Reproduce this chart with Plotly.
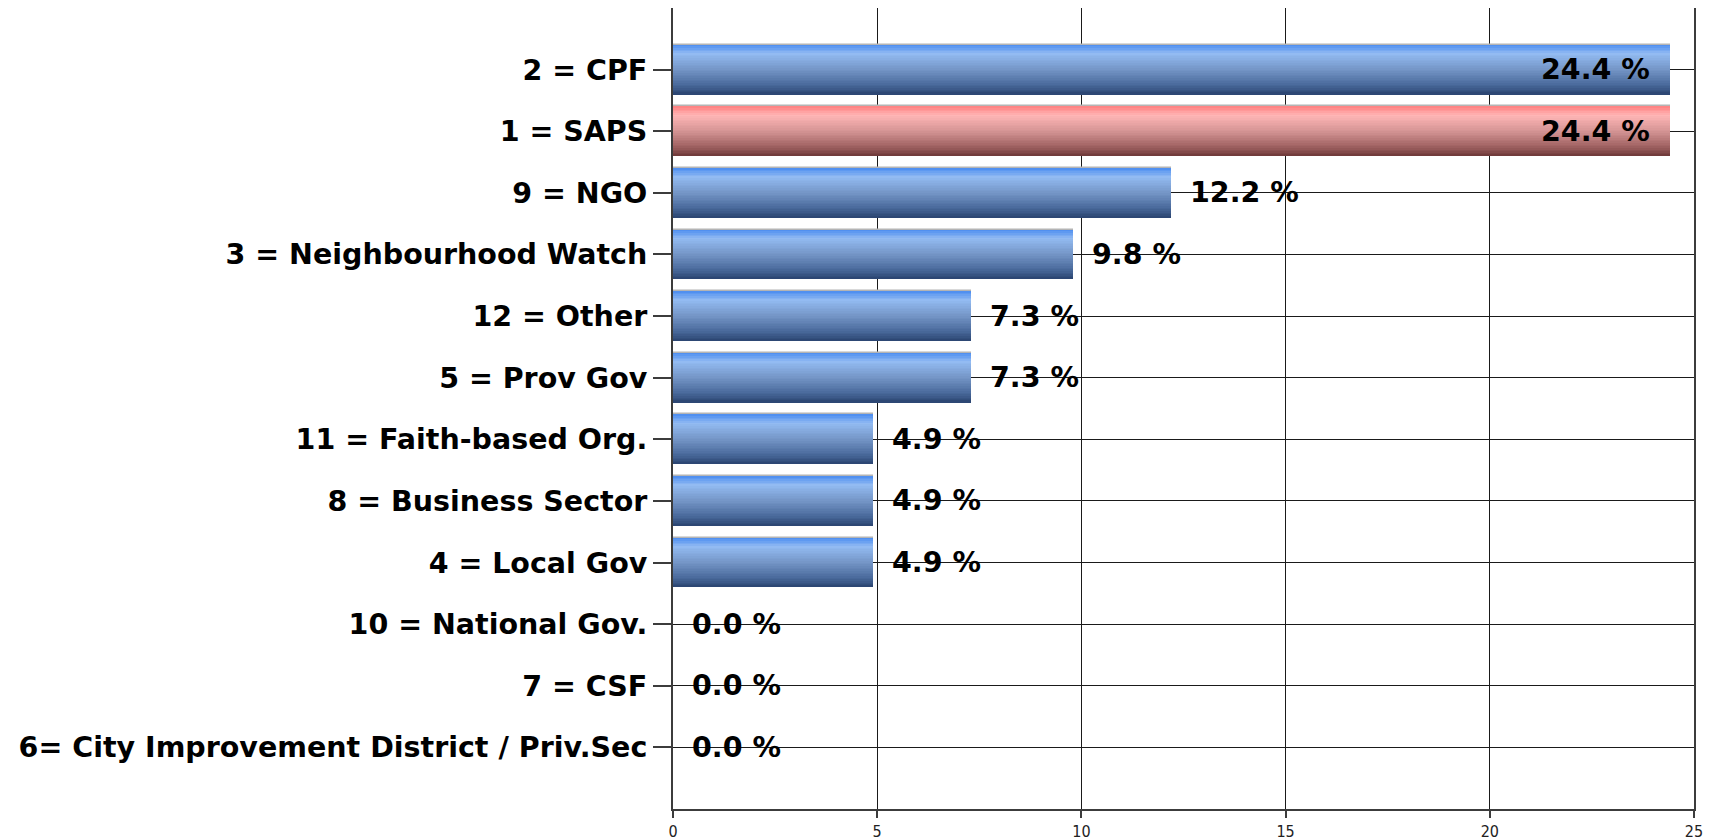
import plotly.graph_objects as go

categories = [
    "2 = CPF",
    "1 = SAPS",
    "9 = NGO",
    "3 = Neighbourhood Watch",
    "12 = Other",
    "5 = Prov Gov",
    "11 = Faith-based Org.",
    "8 = Business Sector",
    "4 = Local Gov",
    "10 = National Gov.",
    "7 = CSF",
    "6= City Improvement District / Priv.Sec",
]
values = [24.4, 24.4, 12.2, 9.8, 7.3, 7.3, 4.9, 4.9, 4.9, 0.0, 0.0, 0.0]
highlight = "1 = SAPS"
x_ticks = [0, 5, 10, 15, 20, 25]

# gradient stops (fraction from top of bar, colour)
blue_stops = [(0.0, "#4a8cf0"), (0.18, "#93bbf2"), (0.5, "#7495c6"), (0.8, "#4a6a9c"), (1.0, "#2a4470")]
red_stops = [(0.0, "#ff7f7f"), (0.18, "#ffb6b6"), (0.5, "#d49494"), (0.8, "#a06262"), (1.0, "#6e3838")]


def hex2rgb(h):
    h = h.lstrip("#")
    return tuple(int(h[i:i + 2], 16) for i in (0, 2, 4))


def interp(stops, t):
    for (t0, c0), (t1, c1) in zip(stops[:-1], stops[1:]):
        if t0 <= t <= t1:
            f = (t - t0) / (t1 - t0) if t1 > t0 else 0
            a, b = hex2rgb(c0), hex2rgb(c1)
            return "rgb(%d,%d,%d)" % tuple(round(a[k] + (b[k] - a[k]) * f) for k in range(3))
    return stops[-1][1]


BAR_W = 0.81
N = 30
step = BAR_W / N
FONT = "DejaVu Sans"

fig = go.Figure()

# base (outline / shadow)
fig.add_trace(go.Bar(
    y=categories, x=values, orientation="h",
    width=BAR_W, offset=-BAR_W / 2,
    marker=dict(color="#c8c8c8",
                line=dict(color="#b4b4b4", width=[1.5 if v > 0 else 0 for v in values])),
    hoverinfo="skip", showlegend=False,
))

for i in range(N):
    t = (i + 0.5) / N
    cols = [interp(red_stops if c == highlight else blue_stops, t) for c in categories]
    off = -BAR_W / 2 + i * step
    w = min(step * 1.6, BAR_W / 2 - off)
    fig.add_trace(go.Bar(
        y=categories, x=values, orientation="h",
        width=w, offset=off,
        marker=dict(color=cols, line=dict(width=0)),
        hoverinfo="skip", showlegend=False,
    ))

annotations = []
for c, v in zip(categories, values):
    inside = v >= 20
    annotations.append(dict(
        x=v, y=c, xref="x", yref="y",
        text=f"{v:.1f} %", showarrow=False,
        xanchor="right" if inside else "left",
        xshift=-18 if inside else 17,
        yanchor="middle",
        font=dict(family=FONT, size=28.5, color="#000000", weight="bold"),
    ))

fig.update_layout(
    width=1715, height=832,
    barmode="overlay",
    bargap=0,
    paper_bgcolor="white",
    plot_bgcolor="white",
    margin=dict(l=665, r=29, t=0, b=31, autoexpand=False),
    annotations=annotations,
    showlegend=False,
)

fig.update_xaxes(
    range=[0, 25],
    tickvals=x_ticks,
    ticktext=[str(t) for t in x_ticks],
    showgrid=True, gridcolor="#1a1a1a", gridwidth=1,
    zeroline=False,
    showline=True, linecolor="#3c3c3c", linewidth=2, mirror=True,
    ticks="outside", ticklen=7, tickcolor="#3c3c3c", tickwidth=1.5,
    tickfont=dict(family="Liberation Sans Narrow, DejaVu Sans Condensed, sans-serif", size=16, color="#222222"),
)

fig.update_yaxes(
    type="category",
    categoryorder="array", categoryarray=categories,
    range=[len(categories), -1],
    showgrid=True, gridcolor="#1a1a1a", gridwidth=1,
    zeroline=False,
    showline=True, linecolor="#3c3c3c", linewidth=2, mirror=True,
    ticks="outside", ticklen=18, tickcolor="#3c3c3c", tickwidth=1.5,
    ticklabelstandoff=0,
    tickfont=dict(family=FONT, size=28.5, color="#000000", weight="bold"),
)

fig.write_html("out.html")
